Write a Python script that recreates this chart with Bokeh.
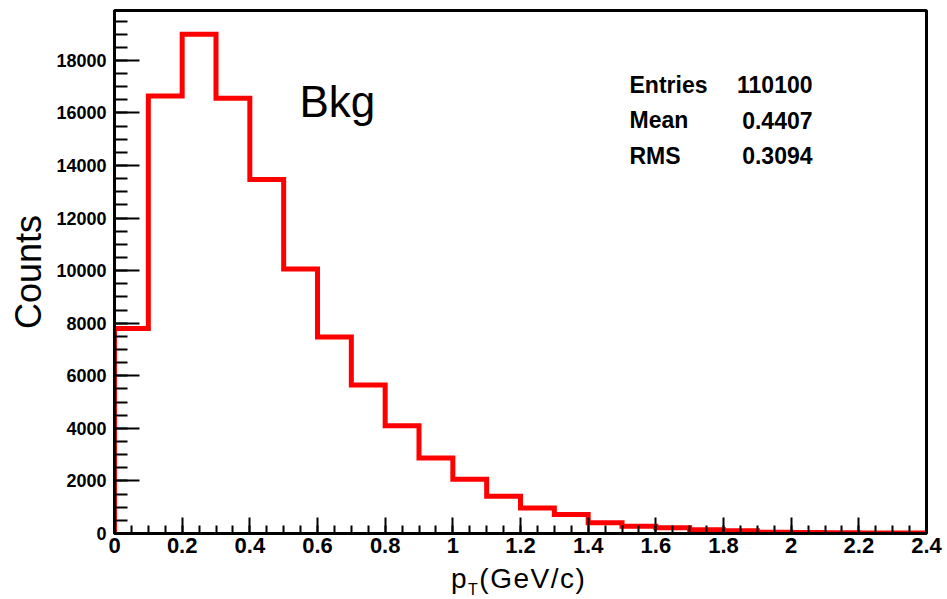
import numpy as np
from bokeh.plotting import figure
from bokeh.models import Range1d, FixedTicker, Label, Div
from bokeh.layouts import column
from bokeh.embed import file_html
from bokeh.resources import INLINE

# Histogram data (bin width 0.1 GeV/c, 0 - 2.4)
bin_edges = [round(0.1 * i, 1) for i in range(25)]
counts = [7800, 16650, 19000, 16560, 13470, 10060, 7480, 5650, 4100, 2870,
          2060, 1420, 975, 720, 405, 280, 215, 140, 100, 50,
          35, 25, 20, 15]
x_ticks = [0, 0.2, 0.4, 0.6, 0.8, 1.0, 1.2, 1.4, 1.6, 1.8, 2.0, 2.2, 2.4]
x_tick_labels = ["0", "0.2", "0.4", "0.6", "0.8", "1", "1.2", "1.4", "1.6", "1.8", "2", "2.2", "2.4"]
y_ticks = [0, 2000, 4000, 6000, 8000, 10000, 12000, 14000, 16000, 18000]
stats_names = ["Entries", "Mean", "RMS"]
stats_values = ["110100", "0.4407", "0.3094"]

XMAX = 2.4
YMAX = 19900
FIG_H = 563

p = figure(width=947, height=FIG_H, output_backend="svg", toolbar_location=None,
           x_range=Range1d(0, XMAX), y_range=Range1d(0, YMAX),
           min_border_left=114, min_border_right=21, min_border_top=10,
           min_border_bottom=FIG_H - 533)
p.background_fill_color = "white"
p.border_fill_color = "white"
p.outline_line_color = "black"
p.outline_line_width = 3
p.xgrid.visible = False
p.ygrid.visible = False

# step outline built from the bin edges and counts
edges = np.array(bin_edges)
vals = np.array(counts, dtype=float)
xs = np.empty(2 * len(vals) + 1)
ys = np.empty(2 * len(vals) + 1)
xs[0] = edges[0]; ys[0] = 0
for i, v in enumerate(vals):
    xs[2 * i + 1] = edges[i]; ys[2 * i + 1] = v
    xs[2 * i + 2] = edges[i + 1]; ys[2 * i + 2] = v
p.line(xs, ys, line_color="#ff0000", line_width=5, line_join="miter")

# axes
xa = p.xaxis[0]
xa.ticker = FixedTicker(ticks=x_ticks, minor_ticks=[round(0.05 * i, 2) for i in range(49)])
xa.major_label_overrides = {t: l for t, l in zip(x_ticks, x_tick_labels)}
xa.major_label_text_font = "Liberation Sans"
xa.major_label_text_font_style = "bold"
xa.major_label_text_font_size = "22px"
xa.major_label_text_color = "black"
xa.major_label_standoff = 4
xa.major_tick_in = 16
xa.major_tick_out = 0
xa.minor_tick_in = 8
xa.minor_tick_out = 0
xa.axis_line_width = 3
xa.major_tick_line_width = 2
xa.minor_tick_line_width = 2

ya = p.yaxis[0]
ya.ticker = FixedTicker(ticks=y_ticks, minor_ticks=list(range(0, 20000, 500)))
ya.major_label_overrides = {t: str(t) for t in y_ticks}
ya.major_label_text_font = "Liberation Sans"
ya.major_label_text_font_style = "bold"
ya.major_label_text_font_size = "18px"
ya.major_label_text_color = "black"
ya.major_label_standoff = 8
ya.major_tick_in = 25
ya.major_tick_out = 0
ya.minor_tick_in = 13
ya.minor_tick_out = 0
ya.axis_line_width = 3
ya.major_tick_line_width = 2
ya.minor_tick_line_width = 2
ya.axis_label = "Counts"
ya.axis_label_text_font = "Liberation Sans"
ya.axis_label_text_font_style = "normal"
ya.axis_label_text_font_size = "36px"
ya.axis_label_text_color = "black"
ya.axis_label_standoff = 4


def dx(px):
    return (px - 114) * XMAX / 812.0


def dy(py):
    return (533 - py) * YMAX / 523.0


# Bkg
p.add_layout(Label(x=dx(299), y=dy(101), text="Bkg", text_font="Liberation Sans",
                   text_font_size="44px", text_color="black", text_baseline="alphabetic"))

# stats box text
for i, (n, v) in enumerate(zip(stats_names, stats_values)):
    yc = 84 + i * 35.5
    p.add_layout(Label(x=dx(629), y=dy(yc), text=n, text_font="Liberation Sans",
                       text_font_style="bold", text_font_size="23px", text_color="black",
                       text_baseline="middle", text_align="left"))
    p.add_layout(Label(x=dx(812), y=dy(yc), text=v, text_font="Liberation Sans",
                       text_font_style="bold", text_font_size="23px", text_color="black",
                       text_baseline="middle", text_align="right"))

# x axis title p_T(GeV/c) as real HTML text under the figure
xlabel = Div(
    text='p<span style="font-size:16px;position:relative;top:7px;">T</span>(GeV/c)',
    width=947, height=599 - FIG_H, margin=(0, 0, 0, 0),
    styles={"font-family": "'Liberation Sans', Arial, sans-serif", "font-size": "28px",
            "line-height": "28px", "padding-left": "451px", "padding-top": "2px",
            "letter-spacing": "1.5px", "color": "black",
            "white-space": "nowrap", "background-color": "white"})

layout = column(p, xlabel, spacing=0, margin=(0, 0, 0, 0))
open("out.html", "w").write(file_html(layout, INLINE))
